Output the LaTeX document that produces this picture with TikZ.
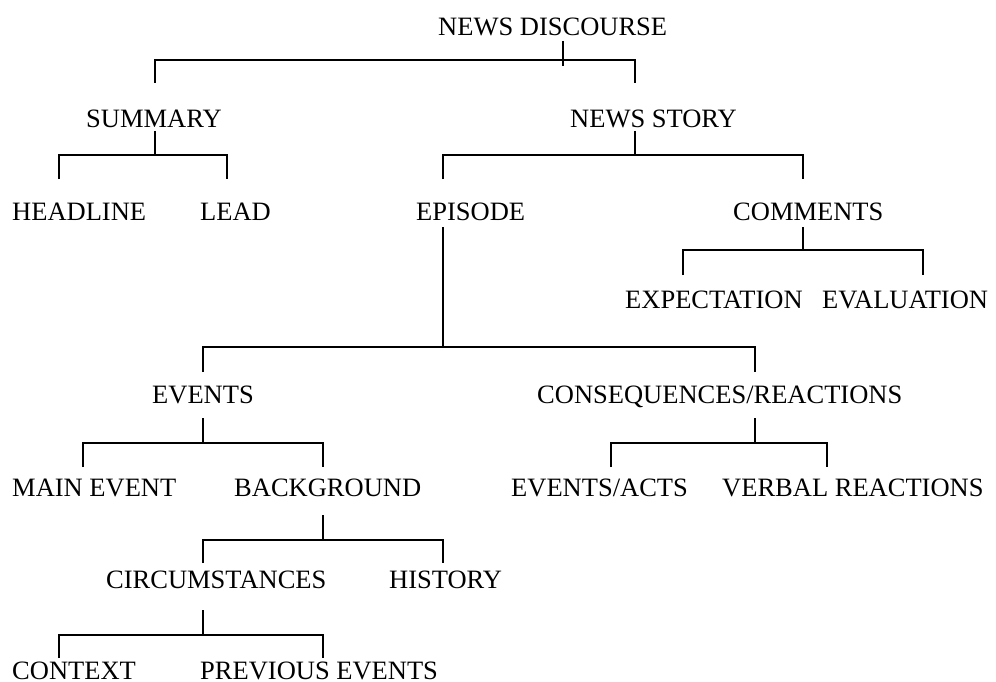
\documentclass[tikz,border=0pt]{standalone}
\usepackage{fontspec}
\setmainfont{Liberation Serif}
\begin{document}
\begin{tikzpicture}[x=1pt,y=-1pt,
  lbl/.style={anchor=base west,inner sep=0pt,font=\fontsize{26.5}{30}\selectfont},
  tline/.style={line width=1.8pt,line cap=butt,line join=miter}]
\useasboundingbox (0,0) rectangle (996,682);
% labels
\node[lbl] (nd)  at (438,36)  {NEWS DISCOURSE};
\node[lbl] (sum) at (86,128)  {SUMMARY};
\node[lbl] (ns)  at (570,128) {NEWS STORY};
\node[lbl] (hea) at (12,220)  {HEADLINE};
\node[lbl] (lea) at (200,220) {LEAD};
\node[lbl] (epi) at (416,220) {EPISODE};
\node[lbl] (com) at (733,220) {COMMENTS};
\node[lbl] (exp) at (625,308) {EXPECTATION};
\node[lbl] (eva) at (822,308) {EVALUATION};
\node[lbl] (evt) at (152,403) {EVENTS};
\node[lbl] (cr)  at (537,403) {CONSEQUENCES/REACTIONS};
\node[lbl] (me)  at (12,496)  {MAIN EVENT};
\node[lbl] (bg)  at (234,496) {BACKGROUND};
\node[lbl] (ea)  at (511,496) {EVENTS/ACTS};
\node[lbl] (vr)  at (722,496) {VERBAL REACTIONS};
\node[lbl] (cir) at (106,588) {CIRCUMSTANCES};
\node[lbl] (his) at (389,588) {HISTORY};
\node[lbl] (ctx) at (12,679)  {CONTEXT};
\node[lbl] (pe)  at (200,679) {PREVIOUS EVENTS};
% bracket junction coordinates: stub top, stub bottom, left leg end, right leg end
\coordinate (nd-t) at (563,41);  \coordinate (nd-j) at (563,66);
\coordinate (nd-b) at (563,60);  \coordinate (nd-l) at (155,83);  \coordinate (nd-r) at (635,83);
\coordinate (sum-t) at (155,131); \coordinate (sum-b) at (155,155);
\coordinate (sum-l) at (59,179);  \coordinate (sum-r) at (227,179);
\coordinate (ns-t) at (635,131); \coordinate (ns-b) at (635,155);
\coordinate (ns-l) at (443,179); \coordinate (ns-r) at (803,179);
\coordinate (com-t) at (803,227); \coordinate (com-b) at (803,250);
\coordinate (com-l) at (683,275); \coordinate (com-r) at (923,275);
\coordinate (epi-t) at (443,227); \coordinate (epi-b) at (443,347);
\coordinate (epi-l) at (203,372); \coordinate (epi-r) at (755,372);
\coordinate (evt-t) at (203,418); \coordinate (evt-b) at (203,443);
\coordinate (evt-l) at (83,467);  \coordinate (evt-r) at (323,467);
\coordinate (cr-t) at (755,418); \coordinate (cr-b) at (755,443);
\coordinate (cr-l) at (611,467); \coordinate (cr-r) at (827,467);
\coordinate (bg-t) at (323,515); \coordinate (bg-b) at (323,540);
\coordinate (bg-l) at (203,563); \coordinate (bg-r) at (443,563);
\coordinate (cir-t) at (203,610); \coordinate (cir-b) at (203,635);
\coordinate (cir-l) at (59,658);  \coordinate (cir-r) at (323,658);
% connectors
\draw[tline] (nd-t) -- (nd-j);
\draw[tline] (nd-l) -- (nd-l |- nd-b) -- (nd-r |- nd-b) -- (nd-r);
\foreach \p in {sum,ns,com,epi,evt,cr,bg,cir}{
  \draw[tline] (\p-t) -- (\p-b);
  \draw[tline] (\p-l) -- (\p-l |- \p-b) -- (\p-r |- \p-b) -- (\p-r);
}
\end{tikzpicture}
\end{document}
